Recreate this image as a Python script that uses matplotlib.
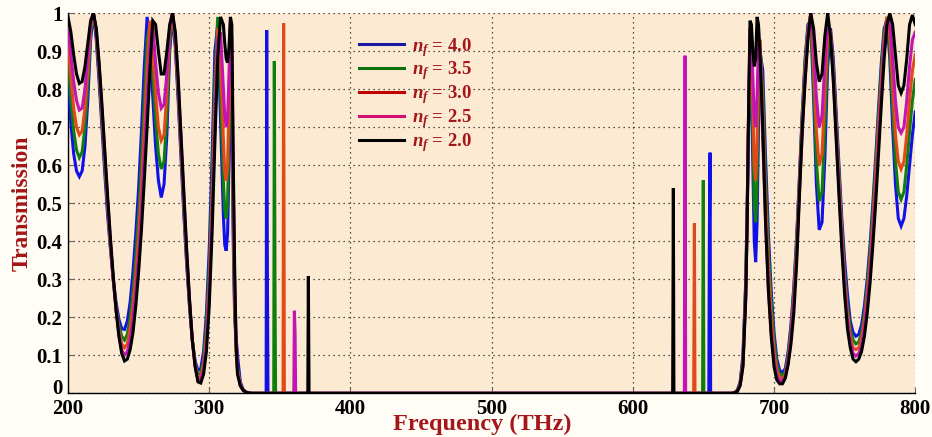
import matplotlib
matplotlib.use("Agg")
import matplotlib.pyplot as plt
from matplotlib.transforms import ScaledTranslation

plt.rcParams.update({
    "font.family": "Liberation Serif", "font.weight": "bold",
    "mathtext.fontset": "custom",
    "mathtext.rm": "Liberation Serif:bold",
    "mathtext.it": "Liberation Serif:italic:bold",
})

# ---- values ----
LABELS = ["$n_f$ = 4.0", "$n_f$ = 3.5", "$n_f$ = 3.0", "$n_f$ = 2.5", "$n_f$ = 2.0"]
COLORS = ["#1010e8", "#0e7f0e", "#e04a18", "#c414b4", "#000000"]
LEG_COLORS = ["#1a1aa0", "#107010", "#c00000", "#d01070", "#000000"]

FREQ_LEFT = [200, 202, 204, 206, 208, 210, 212, 214, 216, 218, 220, 222, 224, 226, 228,
             230, 232, 234, 236, 238, 240, 242, 244, 246, 248, 250, 252, 254, 256, 258,
             260, 262, 264, 266, 268, 270, 272, 274, 276, 278, 280, 282, 284, 286, 288,
             290, 292, 294, 296, 298, 300, 302, 304, 306, 308, 310, 311, 312, 313, 314,
             315, 316, 317, 318, 319, 320, 322, 324, 326, 328, 330]
T_LEFT_40 = [0.83, 0.71, 0.63, 0.585, 0.57, 0.585, 0.65, 0.77, 0.93, 1.0, 0.93, 0.82, 0.70, 0.58, 0.47,
             0.38, 0.30, 0.24, 0.195, 0.17, 0.168, 0.19, 0.24, 0.32, 0.42, 0.54, 0.69, 0.86, 0.99, 0.92,
             0.78, 0.65, 0.56, 0.515, 0.55, 0.68, 0.90, 0.99, 0.91, 0.77, 0.62, 0.47, 0.34, 0.23, 0.14,
             0.085, 0.06, 0.065, 0.11, 0.21, 0.38, 0.62, 0.90, 0.97, 0.72, 0.47, 0.39, 0.375, 0.42, 0.60,
             0.88, 0.75, 0.40, 0.20, 0.15, 0.10, 0.03, 0.01, 0.003, 0.001, 0.0]
T_LEFT_35 = [0.88, 0.77, 0.69, 0.64, 0.62, 0.635, 0.70, 0.81, 0.95, 1.0, 0.94, 0.84, 0.72, 0.60, 0.49,
             0.39, 0.30, 0.23, 0.18, 0.15, 0.14, 0.155, 0.20, 0.27, 0.36, 0.47, 0.61, 0.77, 0.93, 0.97,
             0.84, 0.72, 0.63, 0.59, 0.61, 0.73, 0.92, 1.0, 0.92, 0.79, 0.64, 0.49, 0.35, 0.235, 0.14,
             0.08, 0.05, 0.052, 0.09, 0.18, 0.33, 0.56, 0.83, 0.99, 0.80, 0.56, 0.48, 0.46, 0.50, 0.68,
             0.92, 0.83, 0.45, 0.22, 0.12, 0.07, 0.025, 0.009, 0.003, 0.001, 0.0]
T_LEFT_30 = [0.92, 0.83, 0.75, 0.70, 0.68, 0.69, 0.75, 0.85, 0.96, 1.0, 0.95, 0.85, 0.74, 0.62, 0.50,
             0.39, 0.30, 0.22, 0.165, 0.13, 0.12, 0.13, 0.17, 0.23, 0.31, 0.41, 0.54, 0.69, 0.85, 0.98,
             0.90, 0.79, 0.70, 0.665, 0.68, 0.79, 0.95, 1.0, 0.93, 0.80, 0.65, 0.50, 0.36, 0.24, 0.14,
             0.075, 0.042, 0.042, 0.075, 0.15, 0.29, 0.50, 0.76, 0.96, 0.88, 0.67, 0.58, 0.56, 0.60, 0.77,
             0.96, 0.88, 0.50, 0.25, 0.11, 0.06, 0.022, 0.009, 0.003, 0.001, 0.0]
T_LEFT_25 = [0.96, 0.89, 0.82, 0.77, 0.745, 0.75, 0.80, 0.89, 0.97, 1.0, 0.955, 0.86, 0.75, 0.63, 0.51,
             0.40, 0.30, 0.22, 0.155, 0.115, 0.10, 0.11, 0.14, 0.195, 0.27, 0.36, 0.48, 0.62, 0.77, 0.92,
             0.97, 0.87, 0.79, 0.75, 0.76, 0.84, 0.96, 1.0, 0.94, 0.82, 0.67, 0.52, 0.37, 0.245, 0.14,
             0.072, 0.035, 0.033, 0.06, 0.13, 0.26, 0.46, 0.71, 0.93, 0.95, 0.80, 0.73, 0.70, 0.72, 0.84,
             0.98, 0.93, 0.56, 0.30, 0.15, 0.06, 0.02, 0.008, 0.003, 0.001, 0.0]
T_LEFT_20 = [0.99, 0.95, 0.89, 0.84, 0.815, 0.82, 0.86, 0.92, 0.98, 1.0, 0.96, 0.87, 0.76, 0.64, 0.52,
             0.41, 0.31, 0.22, 0.15, 0.105, 0.085, 0.09, 0.115, 0.16, 0.23, 0.32, 0.43, 0.56, 0.70, 0.85,
             0.98, 0.97, 0.90, 0.84, 0.84, 0.90, 0.97, 1.0, 0.95, 0.83, 0.68, 0.53, 0.38, 0.25, 0.14,
             0.07, 0.03, 0.027, 0.05, 0.11, 0.23, 0.42, 0.66, 0.88, 0.99, 0.97, 0.92, 0.88, 0.87, 0.91,
             0.99, 0.97, 0.62, 0.33, 0.13, 0.05, 0.02, 0.008, 0.003, 0.001, 0.0]

FREQ_RIGHT = [670, 672, 674, 676, 678, 680, 681, 682, 683, 684, 685, 686, 687, 688, 689,
              690, 692, 694, 696, 698, 700, 702, 704, 706, 708, 710, 712, 714, 716, 718,
              720, 722, 724, 726, 728, 730, 732, 734, 736, 738, 740, 742, 744, 746, 748,
              750, 752, 754, 756, 758, 760, 762, 764, 766, 768, 770, 772, 774, 776, 778,
              780, 782, 784, 786, 788, 790, 792, 794, 796, 798, 800]
T_RIGHT_40 = [0.0, 0.002, 0.008, 0.03, 0.10, 0.30, 0.50, 0.70, 0.85, 0.80, 0.60, 0.40, 0.345, 0.45, 0.70,
              0.90, 0.85, 0.62, 0.42, 0.27, 0.16, 0.09, 0.06, 0.055, 0.065, 0.11, 0.18, 0.28, 0.41, 0.57,
              0.74, 0.88, 0.97, 0.98, 0.78, 0.55, 0.43, 0.45, 0.62, 0.86, 0.96, 0.88, 0.74, 0.60, 0.46,
              0.35, 0.26, 0.19, 0.16, 0.15, 0.155, 0.18, 0.23, 0.30, 0.39, 0.50, 0.62, 0.75, 0.87, 0.96,
              0.98, 0.88, 0.70, 0.55, 0.46, 0.44, 0.46, 0.52, 0.60, 0.68, 0.74]
T_RIGHT_35 = [0.0, 0.002, 0.007, 0.027, 0.09, 0.29, 0.49, 0.73, 0.90, 0.86, 0.68, 0.50, 0.45, 0.55, 0.78,
              0.92, 0.80, 0.57, 0.38, 0.24, 0.14, 0.075, 0.05, 0.046, 0.058, 0.10, 0.17, 0.27, 0.40, 0.56,
              0.73, 0.87, 0.96, 0.99, 0.82, 0.61, 0.505, 0.53, 0.70, 0.90, 0.95, 0.86, 0.72, 0.58, 0.44,
              0.32, 0.23, 0.17, 0.14, 0.13, 0.135, 0.16, 0.21, 0.28, 0.37, 0.48, 0.60, 0.73, 0.85, 0.95,
              0.99, 0.91, 0.75, 0.61, 0.53, 0.51, 0.53, 0.60, 0.69, 0.77, 0.825]
T_RIGHT_30 = [0.0, 0.001, 0.006, 0.024, 0.08, 0.27, 0.47, 0.74, 0.94, 0.90, 0.76, 0.60, 0.56, 0.66, 0.86,
              0.93, 0.74, 0.51, 0.33, 0.20, 0.11, 0.06, 0.04, 0.038, 0.05, 0.09, 0.155, 0.25, 0.38, 0.55,
              0.71, 0.85, 0.95, 1.0, 0.87, 0.69, 0.60, 0.63, 0.79, 0.95, 0.95, 0.84, 0.70, 0.56, 0.42,
              0.30, 0.21, 0.15, 0.12, 0.115, 0.12, 0.145, 0.19, 0.26, 0.34, 0.45, 0.57, 0.70, 0.82, 0.93,
              0.99, 0.94, 0.81, 0.68, 0.61, 0.59, 0.61, 0.68, 0.77, 0.85, 0.89]
T_RIGHT_25 = [0.0, 0.001, 0.005, 0.022, 0.075, 0.26, 0.46, 0.75, 0.96, 0.94, 0.83, 0.73, 0.70, 0.78, 0.92,
              0.91, 0.67, 0.45, 0.28, 0.16, 0.085, 0.045, 0.032, 0.032, 0.045, 0.085, 0.145, 0.24, 0.36, 0.53,
              0.69, 0.83, 0.94, 1.0, 0.92, 0.78, 0.70, 0.73, 0.87, 0.98, 0.94, 0.83, 0.68, 0.54, 0.40,
              0.28, 0.19, 0.135, 0.105, 0.098, 0.105, 0.125, 0.17, 0.235, 0.315, 0.42, 0.53, 0.66, 0.79, 0.91,
              0.98, 0.98, 0.88, 0.77, 0.70, 0.685, 0.70, 0.77, 0.86, 0.93, 0.95]
T_RIGHT_20 = [0.0, 0.001, 0.005, 0.02, 0.07, 0.25, 0.45, 0.75, 0.98, 0.97, 0.90, 0.86, 0.88, 0.99, 0.97,
              0.90, 0.70, 0.45, 0.27, 0.15, 0.07, 0.035, 0.025, 0.025, 0.04, 0.075, 0.13, 0.21, 0.34, 0.52,
              0.69, 0.82, 0.93, 1.0, 0.96, 0.87, 0.82, 0.84, 0.94, 1.0, 0.94, 0.82, 0.67, 0.52, 0.38,
              0.26, 0.17, 0.12, 0.09, 0.083, 0.09, 0.11, 0.15, 0.21, 0.29, 0.39, 0.50, 0.63, 0.76, 0.88,
              0.97, 1.0, 0.97, 0.89, 0.81, 0.79, 0.81, 0.88, 0.97, 0.995, 0.97]

# defect modes inside the band gap (centre, peak, side step)
DEFECT_LOW_F = [340.7, 346.1, 352.7, 360.3, 370.2]
DEFECT_LOW_T = [0.955, 0.874, 0.973, 0.217, 0.308]
DEFECT_LOW_STEP = [0.315, 0.26, 0.0, 0.161, 0.0]
DEFECT_HIGH_F = [654.7, 649.9, 643.6, 637.0, 628.7]
DEFECT_HIGH_T = [0.633, 0.56, 0.447, 0.888, 0.54]
DEFECT_HIGH_STEP = [0.41, 0.0, 0.0, 0.0, 0.0]

T_LEFT = [T_LEFT_40, T_LEFT_35, T_LEFT_30, T_LEFT_25, T_LEFT_20]
T_RIGHT = [T_RIGHT_40, T_RIGHT_35, T_RIGHT_30, T_RIGHT_25, T_RIGHT_20]

X_TICKS = [200, 300, 400, 500, 600, 700, 800]
Y_TICKS = [0, 0.1, 0.2, 0.3, 0.4, 0.5, 0.6, 0.7, 0.8, 0.9, 1.0]
Y_TICK_LABELS = ["0", "0.1", "0.2", "0.3", "0.4", "0.5", "0.6", "0.7", "0.8", "0.9", "1"]

LABEL_RED = "#a3161a"

fig = plt.figure(figsize=(9.32, 4.37), dpi=100, facecolor="#fffdf6")
ax = fig.add_axes([0.073, 0.100, 0.909, 0.870])
ax.set_facecolor("#fcebd2")

for i in range(5):
    fl, tl, sl = DEFECT_LOW_F[i], DEFECT_LOW_T[i], DEFECT_LOW_STEP[i]
    fh, th, sh = DEFECT_HIGH_F[i], DEFECT_HIGH_T[i], DEFECT_HIGH_STEP[i]
    xs = (FREQ_LEFT + [fl - 0.4, fl, fl + 0.5, fl + 0.9]
          + [fh - 0.9, fh - 0.5, fh, fh + 0.4] + FREQ_RIGHT)
    ys = (T_LEFT[i] + [0.0, tl, sl, 0.0]
          + [0.0, sh, th, 0.0] + T_RIGHT[i])
    ax.plot(xs, ys, color=COLORS[i], lw=2.2, solid_joinstyle="miter", zorder=3 + i)
    ax.plot([], [], color=LEG_COLORS[i], lw=2.2, label=LABELS[i])

ax.set_xlim(200, 800)
ax.set_ylim(0, 1)
ax.set_xticks(X_TICKS)
ax.set_yticks(Y_TICKS)
ax.set_yticklabels(Y_TICK_LABELS)
ax.grid(True, color="#202020", linestyle=(0, (1, 3)), linewidth=0.9)
for s in ("top", "right"):
    ax.spines[s].set_visible(False)
ax.spines["left"].set_linewidth(1.0)
ax.spines["bottom"].set_linewidth(1.0)
ax.tick_params(direction="in", length=4, width=0.8, color="#666666", labelsize=15)
ax.tick_params(axis="x", pad=4)
ax.tick_params(axis="y", pad=4)
for lab in ax.get_xticklabels() + ax.get_yticklabels():
    lab.set_fontweight("bold")
# lift the "0" label a little so it clears "200"
zero_lab = ax.yaxis.get_major_ticks()[0].label1
zero_lab.set_transform(zero_lab.get_transform() + ScaledTranslation(0, 5 / 72, fig.dpi_scale_trans))

# axis titles placed in figure coordinates to sit where the reference has them
fig.text(0.517, 0.029, "Frequency (THz)", fontsize=17.5, fontweight="bold",
         color=LABEL_RED, ha="center", va="center")
ax.set_ylabel("Transmission", fontsize=17, fontweight="bold", color=LABEL_RED, labelpad=3)

leg = ax.legend(loc="upper left", bbox_to_anchor=(0.324, 0.985), frameon=False,
                handlelength=2.4, labelspacing=0.05, handletextpad=0.4,
                labelcolor=LABEL_RED, prop={"weight": "bold", "size": 13.5})
leg.set_zorder(20)

fig.savefig("out.png", dpi=100, facecolor=fig.get_facecolor())
